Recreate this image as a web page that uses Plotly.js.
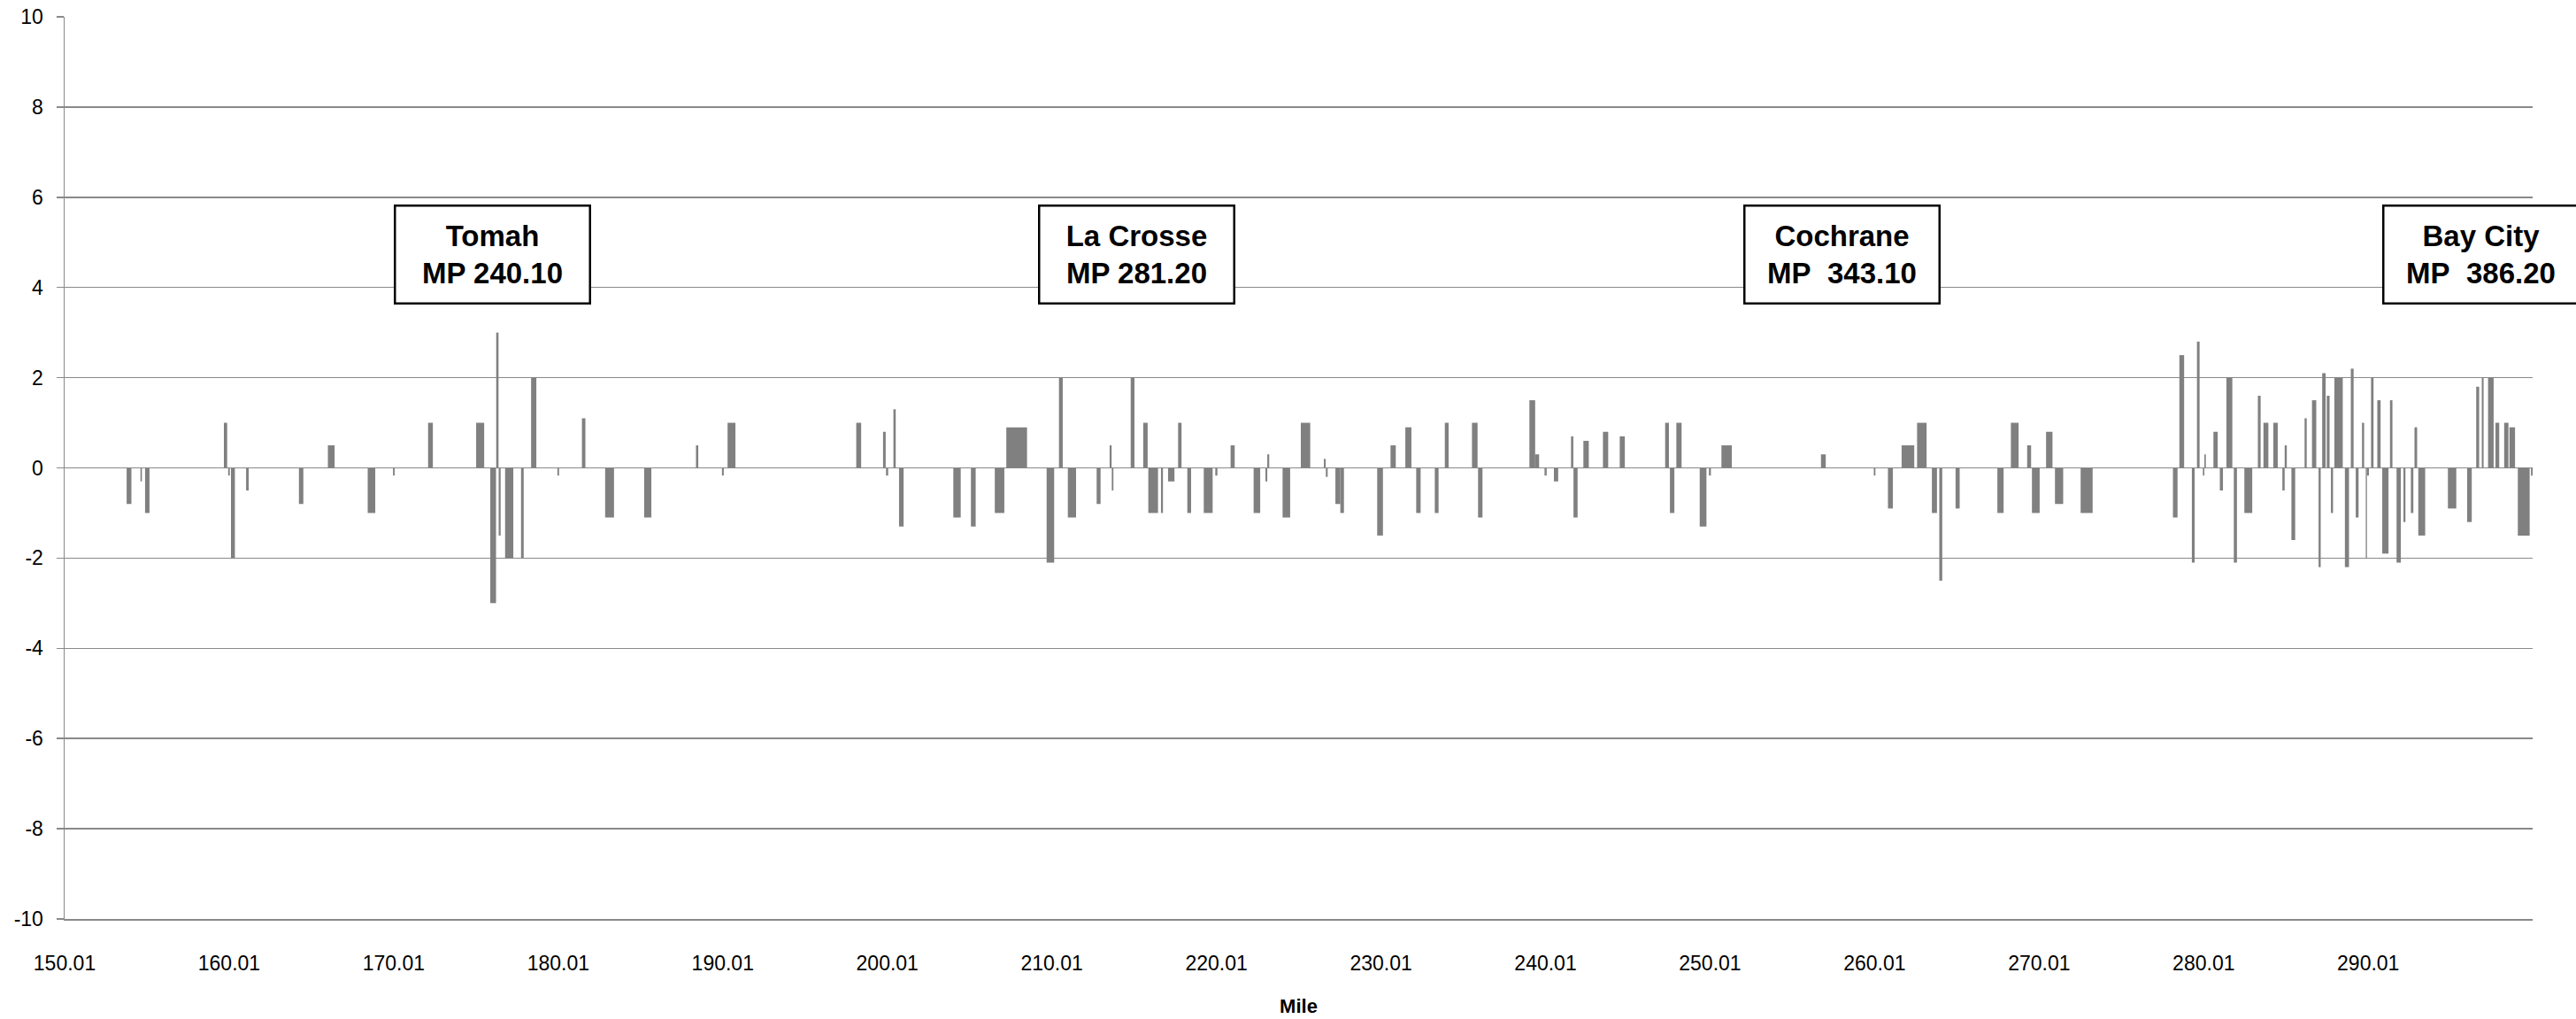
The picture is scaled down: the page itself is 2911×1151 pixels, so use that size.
<!DOCTYPE html>
<html>
<head>
<meta charset="utf-8">
<script src="https://cdn.plot.ly/plotly-3.0.1.min.js"></script>
<style>html,body{margin:0;padding:0;background:#fff;}#chart{width:2911px;height:1151px;}</style>
</head>
<body>
<div id="chart"></div>
<script>
// Segment start mile, segment end mile, deviation value
const segStart = [153.78,154.62,154.90,159.69,159.95,160.12,161.04,164.25,166.01,168.43,169.97,172.10,175.02,175.88,176.24,176.39,176.78,177.75,178.36,179.96,181.45,182.86,185.23,188.38,189.96,190.30,198.12,199.75,199.93,200.38,200.72,204.02,205.09,206.54,207.24,209.69,210.44,210.98,212.73,213.52,213.65,214.80,215.56,215.87,216.64,217.07,217.68,218.24,219.24,219.94,220.87,222.27,222.99,223.10,224.03,225.14,226.54,226.66,227.24,227.54,229.78,230.59,231.49,232.15,233.28,233.89,235.54,235.91,239.03,239.38,239.95,240.52,241.56,241.71,242.31,243.50,244.52,247.28,247.57,247.96,249.38,249.94,250.70,256.75,259.96,260.82,261.65,262.59,263.49,263.94,264.93,267.47,268.29,269.28,269.57,270.43,270.97,272.53,278.14,278.53,279.29,279.60,279.96,280.05,280.60,280.99,281.39,281.84,282.48,283.30,283.64,284.24,284.79,284.93,285.34,286.14,286.59,286.99,287.21,287.49,287.74,287.95,288.59,288.95,289.25,289.63,289.86,289.93,290.18,290.56,290.86,291.33,291.73,292.15,292.60,292.82,293.05,294.85,296.02,296.57,296.91,297.29,297.74,298.27,298.59,299.10,299.90];
const segEnd   = [154.07,154.71,155.17,159.89,160.05,160.36,161.20,164.52,166.42,168.89,170.07,172.39,175.51,176.23,176.38,176.51,177.28,177.91,178.68,180.06,181.66,183.40,185.67,188.52,190.07,190.78,198.42,199.91,200.06,200.52,201.00,204.47,205.38,207.12,208.50,210.15,210.67,211.48,212.97,213.64,213.75,215.03,215.83,216.46,216.76,217.46,217.89,218.47,219.78,220.07,221.12,222.67,223.10,223.22,224.49,225.71,226.65,226.77,227.54,227.76,230.13,230.91,231.86,232.42,233.51,234.12,235.88,236.18,239.38,239.62,240.08,240.78,241.70,241.96,242.64,243.82,244.83,247.51,247.84,248.28,249.79,250.06,251.33,257.04,260.06,261.12,262.42,263.17,263.80,264.12,265.18,267.85,268.76,269.52,270.04,270.82,271.47,273.26,278.42,278.82,279.46,279.76,280.05,280.14,280.86,281.18,281.75,282.03,282.96,283.47,283.94,284.51,284.93,285.06,285.57,286.27,286.85,287.12,287.42,287.66,287.87,288.46,288.84,289.12,289.42,289.76,289.93,290.05,290.33,290.76,291.24,291.48,291.99,292.27,292.75,292.98,293.47,295.36,296.30,296.75,297.02,297.63,297.97,298.53,298.93,299.82,300.00];
const deviation = [-0.8,-0.3,-1.0,1.0,-0.17,-2.0,-0.5,-0.8,0.5,-1.0,-0.17,1.0,1.0,-3.0,3.0,-1.5,-2.0,-2.0,2.0,-0.17,1.1,-1.1,-1.1,0.5,-0.17,1.0,1.0,0.8,-0.17,1.3,-1.3,-1.1,-1.3,-1.0,0.9,-2.1,2.0,-1.1,-0.8,0.5,-0.5,2.0,1.0,-1.0,-1.0,-0.3,1.0,-1.0,-1.0,-0.17,0.5,-1.0,-0.3,0.3,-1.1,1.0,0.2,-0.2,-0.8,-1.0,-1.5,0.5,0.9,-1.0,-1.0,1.0,1.0,-1.1,1.5,0.3,-0.17,-0.3,0.7,-1.1,0.6,0.8,0.7,1.0,-1.0,1.0,-1.3,-0.17,0.5,0.3,-0.17,-0.9,0.5,1.0,-1.0,-2.5,-0.9,-1.0,1.0,0.5,-1.0,0.8,-0.8,-1.0,-1.1,2.5,-2.1,2.8,-0.17,0.3,0.8,-0.5,2.0,-2.1,-1.0,1.6,1.0,1.0,-0.5,0.5,-1.6,1.1,1.5,-2.2,2.1,1.6,-1.0,2.0,-2.2,2.2,-1.1,1.0,-2.0,-0.17,2.0,1.5,-1.9,1.5,-2.1,-1.2,-1.0,0.9,-1.5,-0.9,-1.2,1.8,2.0,2.0,1.0,1.0,0.9,-1.5,-0.17];

const xTickVals = [150.01,160.01,170.01,180.01,190.01,200.01,210.01,220.01,230.01,240.01,250.01,260.01,270.01,280.01,290.01];
const xTickText = xTickVals.map(v => v.toFixed(2));
const yTickVals = [-10,-8,-6,-4,-2,0,2,4,6,8,10];
const yTickText = ["-10","-8","-6","-4","-2","0","2","4","6","8","10"];

const stationNames = ["Tomah", "La Crosse", "Cochrane", "Bay City"];
const stationMP = ["MP 240.10", "MP 281.20", "MP\u00a0 343.10", "MP\u00a0 386.20"];
const stationAt = [176.03, 215.16, 258.03, 296.87];

const centers = segStart.map((s, i) => (s + segEnd[i]) / 2);
const widths = segStart.map((s, i) => segEnd[i] - s);

const GRID = '#898989';
const trace = {
  type: 'bar',
  x: centers,
  y: deviation,
  width: widths,
  marker: {color: '#808080', line: {width: 0}},
  hoverinfo: 'x+y',
  showlegend: false
};

const annotations = stationNames.map((n, i) => ({
  x: stationAt[i], y: 4.735, xref: 'x', yref: 'y',
  xanchor: 'center', yanchor: 'middle',
  text: '<b>' + n + '</b><br><b>' + stationMP[i] + '</b>',
  showarrow: false,
  font: {family: 'Liberation Sans, Arial, sans-serif', size: 33, color: '#000'},
  bgcolor: '#ffffff', bordercolor: '#000000', borderwidth: 2.5, borderpad: 2,
  width: 214, height: 104, align: 'center', valign: 'middle'
}));

const layout = {
  width: 2911, height: 1151,
  margin: {l: 73, r: 49, t: 19, b: 113, pad: 0},
  paper_bgcolor: '#ffffff', plot_bgcolor: '#ffffff',
  font: {family: 'Liberation Sans, Arial, sans-serif', size: 23, color: '#000'},
  barmode: 'overlay',
  xaxis: {
    range: [150.01, 300.0], tickmode: 'array', tickvals: xTickVals, ticktext: xTickText,
    showgrid: false, zeroline: false, showline: true, linecolor: GRID, linewidth: 1.5,
    ticks: '', ticklabelstandoff: 29,
    tickfont: {size: 23, color: '#000'},
    title: {text: '<b>Mile</b>', font: {size: 22, color: '#000'}, standoff: 28},
    automargin: false
  },
  yaxis: {
    range: [-10, 10], tickmode: 'array', tickvals: yTickVals, ticktext: yTickText,
    showgrid: true, gridcolor: GRID, gridwidth: 1.5,
    zeroline: true, zerolinecolor: GRID, zerolinewidth: 1.5,
    showline: true, linecolor: GRID, linewidth: 1.5,
    ticks: 'outside', ticklen: 8, tickcolor: GRID, tickwidth: 1.5,
    ticklabelstandoff: 10,
    tickfont: {size: 23, color: '#000'},
    automargin: false
  },
  annotations: annotations
};

Plotly.newPlot('chart', [trace], layout, {displayModeBar: false, staticPlot: true});
</script>
</body>
</html>
